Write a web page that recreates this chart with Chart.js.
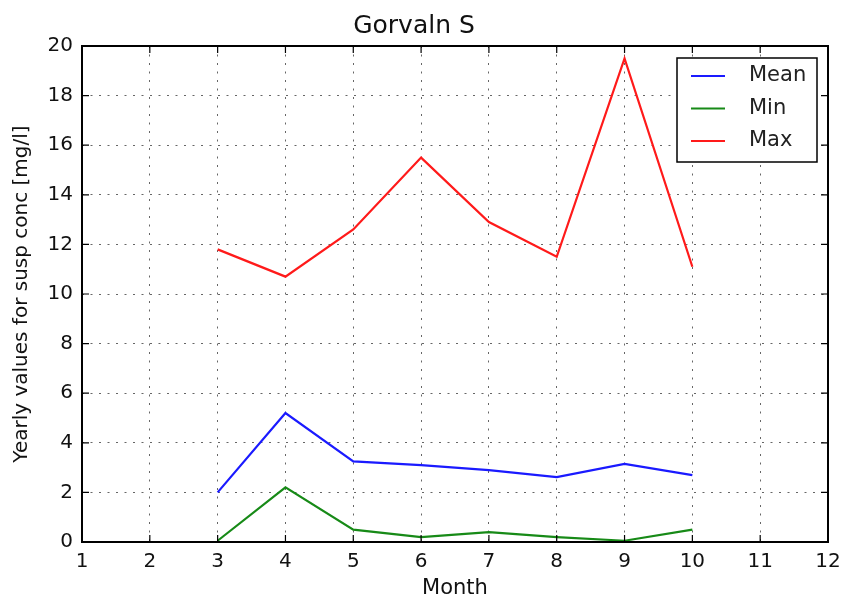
<!DOCTYPE html>
<html>
<head>
<meta charset="utf-8">
<script src="https://cdn.jsdelivr.net/npm/chart.js@4/dist/chart.umd.min.js"></script>
<style>
  html, body { margin: 0; padding: 0; background: #fff; }
  #wrap { width: 843px; height: 601px; }
</style>
</head>
<body>
<div id="wrap"><canvas id="grafico"></canvas></div>
<script>
// Dados
const meses = [3, 4, 5, 6, 7, 8, 9, 10];
const media = [2.0, 5.2, 3.25, 3.1, 2.9, 2.62, 3.15, 2.7];
const minimo = [0.05, 2.2, 0.5, 0.2, 0.4, 0.2, 0.05, 0.5];
const maximo = [11.8, 10.7, 12.6, 15.5, 12.9, 11.5, 19.5, 11.1];
const xTicks = [1, 2, 3, 4, 5, 6, 7, 8, 9, 10, 11, 12];
const yTicks = [0, 2, 4, 6, 8, 10, 12, 14, 16, 18, 20];

const fonte = "'DejaVu Sans', sans-serif";

function pontos(vals) {
  return meses.map((m, i) => ({ x: m, y: vals[i] }));
}

// Moldura, ticks internos e legenda com caixa (estilo matplotlib)
const molduraPlugin = {
  id: "moldura",
  afterDraw(chart) {
    const { ctx, chartArea: a, scales } = chart;
    ctx.save();
    ctx.strokeStyle = "#000";
    ctx.lineWidth = 1.2;
    xTicks.forEach((v) => {
      const px = scales.x.getPixelForValue(v);
      ctx.beginPath();
      ctx.moveTo(px, a.bottom); ctx.lineTo(px, a.bottom - 7);
      ctx.moveTo(px, a.top); ctx.lineTo(px, a.top + 7);
      ctx.stroke();
    });
    yTicks.forEach((v) => {
      const py = scales.y.getPixelForValue(v);
      ctx.beginPath();
      ctx.moveTo(a.left, py); ctx.lineTo(a.left + 7, py);
      ctx.moveTo(a.right, py); ctx.lineTo(a.right - 7, py);
      ctx.stroke();
    });
    ctx.lineWidth = 2;
    ctx.strokeRect(a.left, a.top, a.right - a.left, a.bottom - a.top);

    // legenda
    const lx = a.right - 151, ly = a.top + 12, lw = 140, lh = 104;
    ctx.fillStyle = "#fff";
    ctx.fillRect(lx, ly, lw, lh);
    ctx.lineWidth = 1.5;
    ctx.strokeRect(lx, ly, lw, lh);
    ctx.font = "21px " + fonte;
    ctx.textBaseline = "middle";
    chart.data.datasets.forEach((ds, i) => {
      const y = ly + 18 + i * 32.5;
      ctx.strokeStyle = ds.borderColor;
      ctx.lineWidth = 2.2;
      ctx.beginPath();
      ctx.moveTo(lx + 14, y); ctx.lineTo(lx + 48, y);
      ctx.stroke();
      ctx.fillStyle = "#222";
      ctx.fillText(ds.label, lx + 72, y);
    });
    ctx.restore();
  },
};

new Chart(document.getElementById("grafico"), {
  type: "line",
  data: {
    datasets: [
      { label: "Mean", data: pontos(media), borderColor: "#1a1aff", borderWidth: 2.2, pointRadius: 0, fill: false, tension: 0 },
      { label: "Min", data: pontos(minimo), borderColor: "#178a17", borderWidth: 2.2, pointRadius: 0, fill: false, tension: 0 },
      { label: "Max", data: pontos(maximo), borderColor: "#ff1a1a", borderWidth: 2.2, pointRadius: 0, fill: false, tension: 0 },
    ],
  },
  options: {
    responsive: true,
    maintainAspectRatio: false,
    animation: false,
    layout: { padding: { top: 0, right: 15, left: 0, bottom: 0 } },
    plugins: {
      legend: { display: false },
      tooltip: { enabled: false },
      title: {
        display: true,
        text: "Gorvaln S",
        color: "#111",
        font: { family: fonte, size: 25, weight: "normal" },
        padding: { top: 11, bottom: 5 },
      },
    },
    scales: {
      x: {
        type: "linear",
        min: 1,
        max: 12,
        afterBuildTicks: (s) => { s.ticks = xTicks.map((v) => ({ value: v })); },
        afterFit: (s) => { s.height = 59; s.paddingLeft = 0; s.paddingRight = 0; },
        ticks: { color: "#111", font: { family: fonte, size: 20 }, padding: 8, maxRotation: 0 },
        grid: { color: "#666", lineWidth: 1, tickLength: 0, drawTicks: false },
        border: { display: false, dash: [2, 6.5] },
        title: { display: true, text: "Month", color: "#111", font: { family: fonte, size: 21 }, padding: { top: 0, bottom: 0 } },
      },
      y: {
        min: 0,
        max: 20,
        afterBuildTicks: (s) => { s.ticks = yTicks.map((v) => ({ value: v })); },
        afterFit: (s) => { s.width = 82; s.paddingTop = 0; s.paddingBottom = 0; },
        ticks: { color: "#111", font: { family: fonte, size: 20 }, padding: 9 },
        grid: { color: "#666", lineWidth: 1, tickLength: 0, drawTicks: false },
        border: { display: false, dash: [2, 6.5] },
        title: { display: true, text: "Yearly values for susp conc [mg/l]", color: "#111", font: { family: fonte, size: 20 }, padding: { top: 10, bottom: 0 } },
      },
    },
  },
  plugins: [molduraPlugin],
});
</script>
</body>
</html>
